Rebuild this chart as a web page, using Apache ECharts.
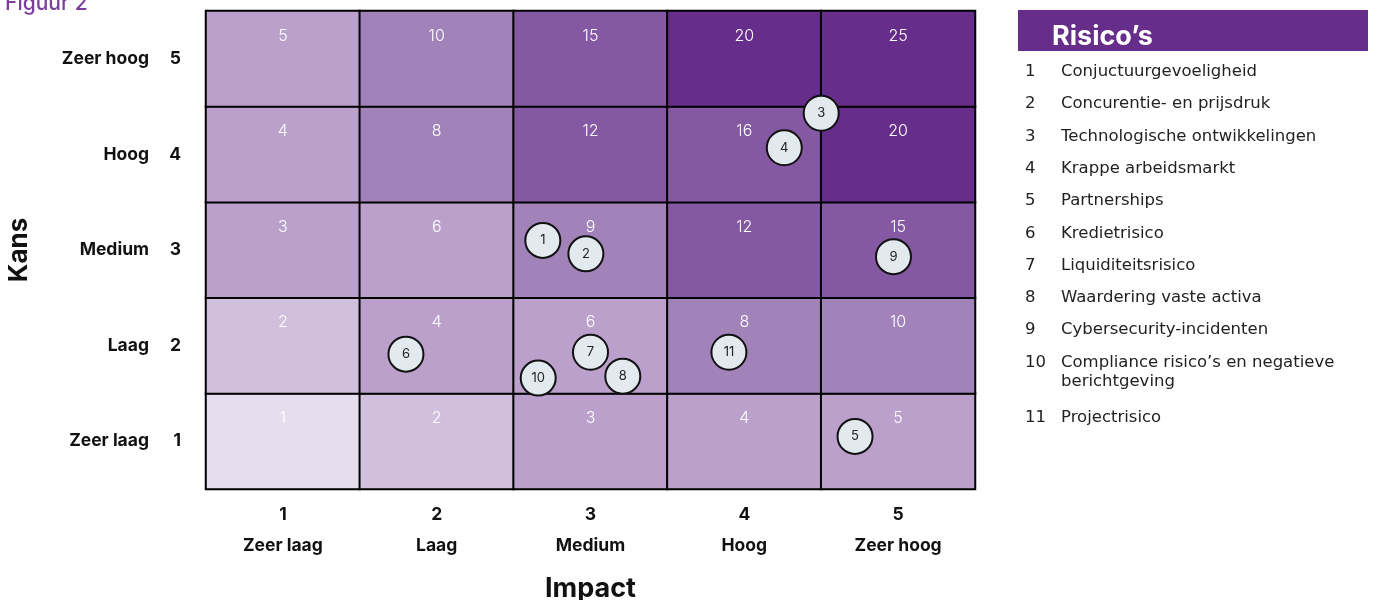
<!DOCTYPE html>
<html>
<head>
<meta charset="utf-8">
<script src="https://cdn.jsdelivr.net/npm/echarts@6/dist/echarts.min.js"></script>
<style>
html,body{margin:0;padding:0;background:#fff;}
#chart{width:1381px;height:600px;}
</style>
</head>
<body>
<div id="chart"></div>
<script>
// Impact (x) and Kans (y) categories
const impactNums = ['1', '2', '3', '4', '5'];
const impactNames = ['Zeer laag', 'Laag', 'Medium', 'Hoog', 'Zeer hoog'];
const kansNums = ['1', '2', '3', '4', '5'];
const kansNames = ['Zeer laag', 'Laag', 'Medium', 'Hoog', 'Zeer hoog'];

// Cell scores, rows from Kans 1 (bottom) to Kans 5 (top), columns Impact 1..5
const scoreRows = [
  [1, 2, 3, 4, 5],
  [2, 4, 6, 8, 10],
  [3, 6, 9, 12, 15],
  [4, 8, 12, 16, 20],
  [5, 10, 15, 20, 25]
];

// Risk bubbles: id, impact position, kans position
const riskIds = [1, 2, 3, 4, 5, 6, 7, 8, 9, 10, 11];
const riskImpact = [2.69, 2.97, 4.50, 4.26, 4.72, 1.80, 3.00, 3.21, 4.97, 2.66, 3.90];
const riskKans = [3.10, 2.96, 4.43, 4.07, 1.05, 1.91, 1.93, 1.68, 2.93, 1.66, 1.93];

const riskNames = [
  'Conjuctuurgevoeligheid',
  'Concurentie- en prijsdruk',
  'Technologische ontwikkelingen',
  'Krappe arbeidsmarkt',
  'Partnerships',
  'Kredietrisico',
  'Liquiditeitsrisico',
  'Waardering vaste activa',
  'Cybersecurity-incidenten',
  'Compliance risico\u2019s en negatieve\nberichtgeving',
  'Projectrisico'
];

const FONT = 'Inter, "Noto Sans", sans-serif';
const LFONT = '"DejaVu Sans", Inter, sans-serif';

const heatData = [];
scoreRows.forEach((row, yi) => row.forEach((v, xi) => heatData.push([xi, yi, v])));

const bubbleData = riskIds.map((id, i) => ({ value: [riskImpact[i], riskKans[i]], name: String(id) }));

// legend graphic
const legendEls = [
  { type: 'rect', left: 1018, top: 10, shape: { width: 350, height: 41 }, style: { fill: '#662d8a' } },
  { type: 'text', left: 1052, top: 23, style: { text: 'Risico\u2019s', fill: '#fff', font: 'bold 27px ' + FONT } },
  { type: 'text', left: 5, top: -7, style: { text: 'Figuur 2', fill: '#7b3f9b', font: '500 21px ' + FONT } }
];
const rowTops = [62, 94, 127, 159, 191, 224, 256, 288, 320, 353, 408];
riskNames.forEach((n, i) => {
  legendEls.push({ type: 'text', left: 1025, top: rowTops[i], style: { text: String(riskIds[i]), fill: '#222', font: '16.5px ' + LFONT, lineHeight: 19 } });
  legendEls.push({ type: 'text', left: 1061, top: rowTops[i], style: { text: n, fill: '#222', font: '16.5px ' + LFONT, lineHeight: 19 } });
});

const chart = echarts.init(document.getElementById('chart'));
chart.setOption({
  animation: false,
  backgroundColor: '#fff',
  grid: { left: 206, right: 406, top: 11, bottom: 111, containLabel: false, outerBoundsMode: 'none' },
  xAxis: [
    {
      type: 'category', data: impactNums, position: 'bottom',
      axisLine: { show: false }, axisTick: { show: false }, splitLine: { show: false },
      axisLabel: {
        margin: 10,
        formatter: (v, i) => '{n|' + v + '}\n{t|' + impactNames[i] + '}',
        rich: {
          n: { fontFamily: FONT, fontWeight: 700, fontSize: 17.5, color: '#111', lineHeight: 31 },
          t: { fontFamily: FONT, fontWeight: 700, fontSize: 17.5, color: '#111', lineHeight: 31 }
        }
      },
      name: 'Impact', nameLocation: 'middle', nameGap: 86,
      nameTextStyle: { fontFamily: FONT, fontWeight: 700, fontSize: 27, color: '#111' }
    },
    { type: 'value', min: 0.5, max: 5.5, show: false }
  ],
  yAxis: [
    {
      type: 'category', data: kansNums,
      axisLine: { show: false }, axisTick: { show: false }, splitLine: { show: false },
      axisLabel: {
        margin: 25,
        formatter: (v, i) => '{t|' + kansNames[i] + '}{n|' + v + '}',
        rich: {
          t: { fontFamily: FONT, fontWeight: 700, fontSize: 17.5, color: '#111' },
          n: { fontFamily: FONT, fontWeight: 700, fontSize: 17.5, color: '#111', width: 32, align: 'right' }
        }
      },
      name: 'Kans', nameLocation: 'middle', nameGap: 174, nameRotate: 90,
      nameTextStyle: { fontFamily: FONT, fontWeight: 700, fontSize: 26, color: '#111' }
    },
    { type: 'value', min: 0.5, max: 5.5, show: false }
  ],
  visualMap: {
    show: false, type: 'piecewise', seriesIndex: 0, dimension: 2,
    pieces: [
      { min: 0.5, max: 1.5, color: '#e6deed' },
      { min: 1.5, max: 2.5, color: '#d0bfdd' },
      { min: 2.5, max: 6.5, color: '#bba0cc' },
      { min: 6.5, max: 10.5, color: '#a283b9' },
      { min: 10.5, max: 16.5, color: '#8458a2' },
      { min: 16.5, max: 25.5, color: '#662d8a' }
    ]
  },
  graphic: legendEls,
  series: [
    {
      type: 'heatmap', xAxisIndex: 0, yAxisIndex: 0, data: heatData,
      itemStyle: { borderColor: '#000', borderWidth: 2 },
      label: {
        show: true, offset: [0, -23], color: '#fff', fontFamily: FONT, fontSize: 16, fontWeight: 300,
        formatter: p => p.value[2]
      },
      emphasis: { disabled: true }
    },
    {
      type: 'scatter', xAxisIndex: 1, yAxisIndex: 1, data: bubbleData, z: 5,
      symbol: 'circle', symbolSize: 35,
      itemStyle: { color: '#e3eaef', borderColor: '#111', borderWidth: 2, opacity: 1 },
      label: { show: true, position: 'inside', formatter: p => p.name, color: '#222', fontFamily: FONT, fontSize: 13 }
    }
  ]
});
</script>
</body>
</html>
